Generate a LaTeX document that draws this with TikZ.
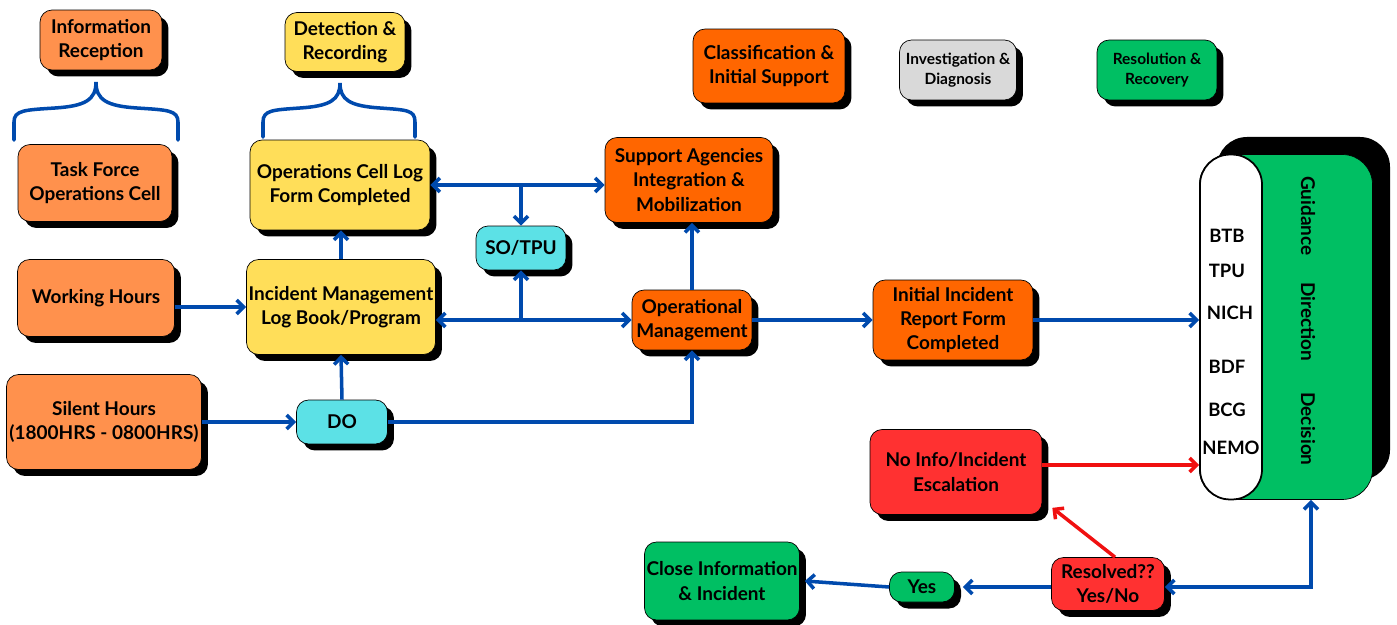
\documentclass[tikz,border=0pt]{standalone}
\usepackage{fontspec}
\setmainfont{Lato}
\usetikzlibrary{arrows.meta,shadows}

\definecolor{lorange}{HTML}{FF914D}
\definecolor{dorange}{HTML}{FF6600}
\definecolor{lyellow}{HTML}{FFDE59}
\definecolor{lcyan}{HTML}{5CE1E6}
\definecolor{lgrey}{HTML}{D9D9D9}
\definecolor{lgreen}{HTML}{00BF63}
\definecolor{lred}{HTML}{FF3131}
\definecolor{arrowblue}{HTML}{004AAD}
\definecolor{arrowred}{HTML}{F01010}

\tikzset{
  box/.style={draw=black, thin, rounded corners=0.24cm, inner sep=0pt, align=center,
              font=\fontsize{10.8}{13.8}\selectfont\bfseries,
              general shadow={fill=black, shadow xshift=0.13cm, shadow yshift=-0.13cm}},
  smallbox/.style={box, font=\fontsize{8.8}{11.5}\selectfont\bfseries},
  member/.style={font=\fontsize{10.5}{12}\selectfont\bfseries},
  role/.style={rotate=-90, font=\fontsize{10.8}{12}\selectfont\bfseries},
  conn/.style={draw=arrowblue, line width=2pt},
  rconn/.style={draw=arrowred, line width=2pt},
  brace/.style={draw=arrowblue, line width=2pt, line cap=round},
  >={Straight Barb[length=4pt,width=8pt]}
}

\begin{document}
\begin{tikzpicture}[x=0.02cm, y=-0.02cm]

       \useasboundingbox (0,0) rectangle (1397,625);

        % phase legend
        \node [box, fill=lorange, minimum width=2.44cm, minimum height=1.2cm]  (inforec)  at (101,40)  {Information\\Reception};
        \node [box, fill=lyellow, minimum width=2.4cm, minimum height=1.18cm]  (detrec)   at (345,42)  {Detection \&\\Recording};
        \node [box, fill=dorange, minimum width=3.04cm, minimum height=1.48cm] (classif)  at (769,66)  {Classification \&\\Initial Support};
        \node [smallbox, fill=lgrey, minimum width=2.34cm, minimum height=1.2cm]  (invest) at (958,70)  {Investigation \&\\Diagnosis};
        \node [smallbox, fill=lgreen, minimum width=2.4cm, minimum height=1.2cm]  (resol)  at (1157,70) {Resolution \&\\Recovery};

        \draw [brace] (14,140) -- (14,122) .. controls (14,110) and (25,110) .. (55,108)
                      .. controls (85,106) and (96,100) .. (96,82)
                      .. controls (96,100) and (107,106) .. (137,108)
                      .. controls (167,110) and (178,110) .. (178,122) -- (178,140);
        \draw [brace] (263,137) -- (263,122) .. controls (263,110) and (273,110) .. (300,108)
                      .. controls (330,106) and (340,100) .. (340,83)
                      .. controls (340,100) and (350,106) .. (380,108)
                      .. controls (407,110) and (415,110) .. (415,122) -- (415,137);

        % reception
        \node [box, fill=lorange, minimum width=3.08cm, minimum height=1.54cm] (taskforce) at (95,183)  {Task Force\\Operations Cell};
        \node [box, fill=lorange, minimum width=3.14cm, minimum height=1.54cm] (workhrs)   at (96,298)  {Working Hours};
        \node [box, fill=lorange, minimum width=3.9cm, minimum height=1.9cm]   (silent)    at (104,422) {Silent Hours\\(1800HRS - 0800HRS)};

        % recording
        \node [box, fill=lyellow, minimum width=3.6cm, minimum height=1.8cm]   (opslog)    at (340,185) {Operations Cell Log\\Form Completed};
        \node [box, fill=lyellow, minimum width=3.78cm, minimum height=1.9cm]  (incmgmt)   at (341,307) {Incident Management\\Log Book/Program};
        \node [box, fill=lcyan, minimum width=1.82cm, minimum height=0.88cm]   (do)        at (342,422) {DO};
        \node [box, fill=lcyan, minimum width=1.8cm, minimum height=0.88cm]    (sotpu)     at (521,248) {SO/TPU};

        % classification
        \node [box, fill=dorange, minimum width=3.36cm, minimum height=1.7cm]  (support)   at (689,180) {Support Agencies\\Integration \&\\Mobilization};
        \node [box, fill=dorange, minimum width=2.4cm, minimum height=1.2cm]   (opmgmt)    at (692,320) {Operational\\Management};
        \node [box, fill=dorange, minimum width=3.2cm, minimum height=1.6cm]   (initrep)   at (953,320) {Initial Incident\\Report Form\\Completed};

        % resolution
        \node [box, fill=lred, minimum width=3.44cm, minimum height=1.7cm]     (noinfo)    at (956,472) {No Info/Incident\\Escalation};
        \node [box, fill=lred, minimum width=2.26cm, minimum height=1.06cm]    (resolved)  at (1108,584) {Resolved??\\Yes/No};
        \node [box, fill=lgreen, minimum width=1.3cm, minimum height=0.6cm]    (yes)       at (922,587) {Yes};
        \node [box, fill=lgreen, minimum width=3.1cm, minimum height=1.56cm]   (closeinf)  at (722,581) {Close Information\\\& Incident};

        % authorities
        \fill [black, rounded corners=0.6cm] (1217,137) rectangle (1390,480);
        \node [draw=black, thin, fill=lgreen, rounded corners=0.6cm, minimum width=3.46cm, minimum height=6.9cm] (big) at (1286,327) {};
        \node [draw=black, line width=1pt, fill=white, rounded corners=0.6cm, minimum width=1.24cm, minimum height=6.9cm] (pill) at (1231,327) {};

        \node [member] (btb)  at (1227,236) {BTB};
        \node [member] (tpu)  at (1227,271) {TPU};
        \node [member] (nich) at (1230,313) {NICH};
        \node [member] (bdf)  at (1227,367) {BDF};
        \node [member] (bcg)  at (1227,410) {BCG};
        \node [member] (nemo) at (1231,448) {NEMO};

        \node [role] (guid) at (1308,216) {Guidance};
        \node [role] (dirn) at (1308,322) {Direction};
        \node [role] (decn) at (1308,429) {Decision};

        % connectors
        \draw [conn, ->]   (workhrs.east |- incmgmt) -- (incmgmt.west);
        \draw [conn, ->]   (silent.east) -- (do.west);
        \draw [conn, ->]   (do.north) -- (incmgmt.south);
        \draw [conn, ->]   (do.east) -| (opmgmt.south);
        \draw [conn, ->]   (incmgmt.north) -- (incmgmt.north |- opslog.south);

        \coordinate (j1) at (sotpu.north |- opslog.east);
        \coordinate (j2) at (sotpu.south |- opmgmt.west);
        \draw [conn, <->]  (opslog.east) -- (opslog.east -| support.west);
        \draw [conn, ->]   (j1) -- (sotpu.north);
        \draw [conn, <->]  (incmgmt.east |- opmgmt) -- (opmgmt.west);
        \draw [conn, ->]   (j2) -- (sotpu.south);

        \draw [conn, ->]   (opmgmt.north) -- (opmgmt.north |- support.south);
        \draw [conn, ->]   (opmgmt.east) -- (initrep.west);
        \draw [conn, ->]   (initrep.east) -- (initrep.east -| pill.west);

        \draw [rconn, ->]  ([yshift=0.14cm]noinfo.east) -- ([yshift=0.14cm]noinfo.east -| pill.west);
        \draw [rconn, ->]  ([xshift=0.14cm]resolved.north) -- ([xshift=0.2cm,yshift=0.14cm]noinfo.south east);

        \draw [conn, <->]  (resolved.east |- 0,587) -| ([xshift=0.5cm]big.south);
        \draw [conn, ->]   (resolved.west |- yes) -- ([xshift=0.16cm]yes.east);
        \draw [conn, ->]   (yes.west) -- ([xshift=0.1cm]closeinf.east);

     \end{tikzpicture}
\end{document}
